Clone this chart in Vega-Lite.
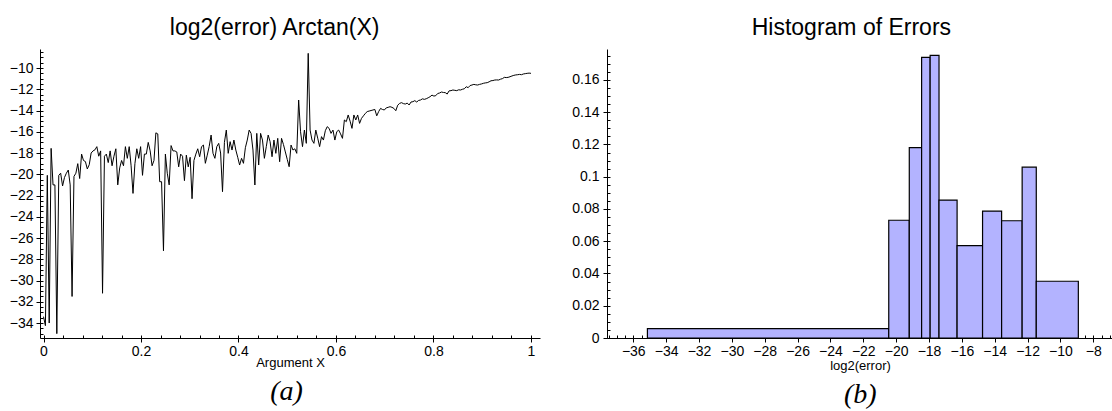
{
"$schema":"https://vega.github.io/schema/vega-lite/v6.json",
"background":"white",
"padding":{"left":9,"top":17,"right":0,"bottom":0},
"config":{"font":"Liberation Sans","view":{"stroke":null},
"axis":{"labelFont":"Liberation Sans","labelFontSize":14,"labelColor":"black","domainColor":"black","tickColor":"black","grid":false,"titleFont":"Liberation Sans","titleFontSize":13,"titleFontWeight":"normal","titleColor":"black","domainWidth":1,"tickWidth":1}},
"datasets":{
"err":[{"x":0,"y":-33.4},{"x":0.0039,"y":-34.25},{"x":0.0078,"y":-20.1},{"x":0.0117,"y":-34.0},{"x":0.0156,"y":-17.56},{"x":0.0195,"y":-21.0},{"x":0.0234,"y":-21.0},{"x":0.0273,"y":-35.0},{"x":0.0313,"y":-20.1},{"x":0.0352,"y":-19.9},{"x":0.0391,"y":-21.1},{"x":0.043,"y":-20.3},{"x":0.0469,"y":-19.9},{"x":0.0508,"y":-19.6},{"x":0.0547,"y":-21.0},{"x":0.0586,"y":-31.5},{"x":0.0625,"y":-20.2},{"x":0.0664,"y":-19.9},{"x":0.0703,"y":-19.0},{"x":0.0742,"y":-20.4},{"x":0.0781,"y":-18.1},{"x":0.082,"y":-18.7},{"x":0.0859,"y":-18.8},{"x":0.0898,"y":-19.5},{"x":0.0938,"y":-19.1},{"x":0.0977,"y":-18.0},{"x":0.1016,"y":-17.8},{"x":0.1055,"y":-17.7},{"x":0.1094,"y":-17.4},{"x":0.1133,"y":-18.3},{"x":0.1172,"y":-17.8},{"x":0.1211,"y":-31.2},{"x":0.125,"y":-18.3},{"x":0.1289,"y":-18.1},{"x":0.1328,"y":-18.9},{"x":0.1367,"y":-17.8},{"x":0.1406,"y":-19.2},{"x":0.1445,"y":-18.3},{"x":0.1484,"y":-17.6},{"x":0.1523,"y":-21.0},{"x":0.1563,"y":-19.4},{"x":0.1602,"y":-18.7},{"x":0.1641,"y":-19.2},{"x":0.168,"y":-17.4},{"x":0.1719,"y":-18.5},{"x":0.1758,"y":-17.4},{"x":0.1797,"y":-19.2},{"x":0.1836,"y":-21.8},{"x":0.1875,"y":-19.0},{"x":0.1914,"y":-17.6},{"x":0.1953,"y":-18.5},{"x":0.1992,"y":-17.4},{"x":0.2031,"y":-20.1},{"x":0.207,"y":-18.1},{"x":0.2109,"y":-18.1},{"x":0.2148,"y":-17.0},{"x":0.2188,"y":-17.8},{"x":0.2227,"y":-19.2},{"x":0.2266,"y":-18.7},{"x":0.2305,"y":-16.1},{"x":0.2344,"y":-16.2},{"x":0.2383,"y":-20.7},{"x":0.2422,"y":-20.7},{"x":0.2461,"y":-27.2},{"x":0.25,"y":-18.1},{"x":0.2539,"y":-19.9},{"x":0.2578,"y":-21.0},{"x":0.2617,"y":-17.3},{"x":0.2656,"y":-17.8},{"x":0.2695,"y":-17.8},{"x":0.2734,"y":-17.9},{"x":0.2773,"y":-19.3},{"x":0.2813,"y":-18.1},{"x":0.2852,"y":-18.3},{"x":0.2891,"y":-20.6},{"x":0.293,"y":-18.2},{"x":0.2969,"y":-19.3},{"x":0.3008,"y":-18.4},{"x":0.3047,"y":-22.3},{"x":0.3086,"y":-18.7},{"x":0.3125,"y":-18.1},{"x":0.3164,"y":-17.6},{"x":0.3203,"y":-18.35},{"x":0.3242,"y":-17.4},{"x":0.3281,"y":-17.25},{"x":0.332,"y":-18.97},{"x":0.3359,"y":-18.2},{"x":0.3398,"y":-17.4},{"x":0.3438,"y":-16.31},{"x":0.3477,"y":-18.03},{"x":0.3516,"y":-18.5},{"x":0.3555,"y":-17.4},{"x":0.3594,"y":-17.09},{"x":0.3633,"y":-18.0},{"x":0.3672,"y":-21.64},{"x":0.3711,"y":-17.0},{"x":0.375,"y":-15.84},{"x":0.3789,"y":-18.03},{"x":0.3828,"y":-16.93},{"x":0.3867,"y":-17.72},{"x":0.3906,"y":-16.78},{"x":0.3945,"y":-17.72},{"x":0.3984,"y":-18.4},{"x":0.4023,"y":-19.13},{"x":0.4063,"y":-18.5},{"x":0.4102,"y":-18.97},{"x":0.4141,"y":-17.5},{"x":0.418,"y":-16.78},{"x":0.4219,"y":-15.84},{"x":0.4258,"y":-16.15},{"x":0.4297,"y":-17.72},{"x":0.4336,"y":-21.01},{"x":0.4375,"y":-16.15},{"x":0.4414,"y":-19.13},{"x":0.4453,"y":-16.15},{"x":0.4492,"y":-16.78},{"x":0.4531,"y":-18.5},{"x":0.457,"y":-17.4},{"x":0.4609,"y":-16.31},{"x":0.4648,"y":-16.93},{"x":0.4688,"y":-18.35},{"x":0.4727,"y":-16.78},{"x":0.4766,"y":-18.03},{"x":0.4805,"y":-16.62},{"x":0.4844,"y":-18.82},{"x":0.4883,"y":-16.62},{"x":0.4922,"y":-17.2},{"x":0.4961,"y":-17.9},{"x":0.5,"y":-18.6},{"x":0.5039,"y":-19.29},{"x":0.5078,"y":-17.25},{"x":0.5117,"y":-17.72},{"x":0.5156,"y":-17.6},{"x":0.5195,"y":-18.03},{"x":0.5234,"y":-13.01},{"x":0.5273,"y":-16.0},{"x":0.5313,"y":-17.4},{"x":0.5352,"y":-15.84},{"x":0.5391,"y":-17.09},{"x":0.543,"y":-8.62},{"x":0.5469,"y":-15.84},{"x":0.5508,"y":-16.78},{"x":0.5547,"y":-17.09},{"x":0.5586,"y":-15.84},{"x":0.5625,"y":-16.6},{"x":0.5664,"y":-17.4},{"x":0.5703,"y":-16.46},{"x":0.5742,"y":-16.78},{"x":0.5781,"y":-15.9},{"x":0.582,"y":-15.52},{"x":0.5859,"y":-15.68},{"x":0.5898,"y":-16.15},{"x":0.5938,"y":-15.84},{"x":0.5977,"y":-16.78},{"x":0.6016,"y":-15.99},{"x":0.6055,"y":-15.84},{"x":0.6094,"y":-16.2},{"x":0.6133,"y":-16.62},{"x":0.6172,"y":-14.89},{"x":0.6211,"y":-15.05},{"x":0.625,"y":-14.42},{"x":0.6289,"y":-15.0},{"x":0.6328,"y":-15.68},{"x":0.6367,"y":-14.42},{"x":0.6406,"y":-14.89},{"x":0.6445,"y":-14.42},{"x":0.6484,"y":-15.21},{"x":0.6523,"y":-14.74},{"x":0.6563,"y":-14.5},{"x":0.6602,"y":-14.27},{"x":0.6641,"y":-14.1},{"x":0.668,"y":-14.05},{"x":0.6719,"y":-14.0},{"x":0.6758,"y":-13.95},{"x":0.6797,"y":-13.9},{"x":0.6836,"y":-14.5},{"x":0.6875,"y":-14.1},{"x":0.6914,"y":-13.8},{"x":0.6953,"y":-13.9},{"x":0.6992,"y":-13.95},{"x":0.7031,"y":-13.75},{"x":0.707,"y":-13.7},{"x":0.7109,"y":-13.64},{"x":0.7148,"y":-13.7},{"x":0.7188,"y":-13.8},{"x":0.7227,"y":-14.02},{"x":0.7266,"y":-13.5},{"x":0.7305,"y":-13.33},{"x":0.7344,"y":-13.26},{"x":0.7383,"y":-13.35},{"x":0.7422,"y":-13.39},{"x":0.7461,"y":-13.3},{"x":0.75,"y":-13.48},{"x":0.7539,"y":-13.2},{"x":0.7578,"y":-13.17},{"x":0.7617,"y":-13.07},{"x":0.7656,"y":-13.2},{"x":0.7695,"y":-13.05},{"x":0.7734,"y":-13.01},{"x":0.7773,"y":-12.9},{"x":0.7813,"y":-12.95},{"x":0.7852,"y":-12.89},{"x":0.7891,"y":-12.8},{"x":0.793,"y":-12.7},{"x":0.7969,"y":-12.55},{"x":0.8008,"y":-12.64},{"x":0.8047,"y":-12.6},{"x":0.8086,"y":-12.4},{"x":0.8125,"y":-12.35},{"x":0.8164,"y":-12.26},{"x":0.8203,"y":-12.3},{"x":0.8242,"y":-12.32},{"x":0.8281,"y":-12.45},{"x":0.832,"y":-12.15},{"x":0.8359,"y":-12.13},{"x":0.8398,"y":-12.07},{"x":0.8438,"y":-12.1},{"x":0.8477,"y":-12.13},{"x":0.8516,"y":-12.05},{"x":0.8555,"y":-12.07},{"x":0.8594,"y":-12.0},{"x":0.8633,"y":-11.95},{"x":0.8672,"y":-11.76},{"x":0.8711,"y":-11.85},{"x":0.875,"y":-11.65},{"x":0.8789,"y":-11.6},{"x":0.8828,"y":-11.54},{"x":0.8867,"y":-11.58},{"x":0.8906,"y":-11.6},{"x":0.8945,"y":-11.54},{"x":0.8984,"y":-11.5},{"x":0.9023,"y":-11.44},{"x":0.9063,"y":-11.4},{"x":0.9102,"y":-11.38},{"x":0.9141,"y":-11.3},{"x":0.918,"y":-11.2},{"x":0.9219,"y":-11.18},{"x":0.9258,"y":-11.13},{"x":0.9297,"y":-11.12},{"x":0.9336,"y":-11.13},{"x":0.9375,"y":-11.05},{"x":0.9414,"y":-11.0},{"x":0.9453,"y":-10.88},{"x":0.9492,"y":-10.9},{"x":0.9531,"y":-10.88},{"x":0.957,"y":-10.82},{"x":0.9609,"y":-10.75},{"x":0.9648,"y":-10.69},{"x":0.9688,"y":-10.65},{"x":0.9727,"y":-10.63},{"x":0.9766,"y":-10.6},{"x":0.9805,"y":-10.63},{"x":0.9844,"y":-10.56},{"x":0.9883,"y":-10.53},{"x":0.9922,"y":-10.5},{"x":0.9961,"y":-10.48},{"x":1,"y":-10.5}],
"hist":[{"lo":-35.14,"hi":-20.45,"density":0.0058},{"lo":-20.45,"hi":-19.2,"density":0.073},{"lo":-19.2,"hi":-18.45,"density":0.118},{"lo":-18.45,"hi":-17.93,"density":0.174},{"lo":-17.93,"hi":-17.39,"density":0.1752},{"lo":-17.39,"hi":-16.29,"density":0.0855},{"lo":-16.29,"hi":-14.74,"density":0.0573},{"lo":-14.74,"hi":-13.58,"density":0.0787},{"lo":-13.58,"hi":-12.33,"density":0.0727},{"lo":-12.33,"hi":-11.47,"density":0.1059},{"lo":-11.47,"hi":-8.91,"density":0.0352}]
},
"spacing":31,
"hconcat":[
{"title":{"text":"(a)","orient":"bottom","anchor":"middle","font":"Liberation Serif","fontStyle":"italic","fontSize":28,"fontWeight":"normal","color":"black","offset":9,"dx":12},
 "vconcat":[
 {"title":{"text":"log2(error) Arctan(X)","font":"Liberation Sans","fontSize":23,"fontWeight":"normal","color":"black","offset":9,"frame":"bounds","anchor":"middle"},
  "width":500,"height":289,
  "data":{"name":"err"},
  "layer":[
   {"mark":{"type":"line","color":"black","strokeWidth":1},
    "encoding":{
     "x":{"field":"x","type":"quantitative","scale":{"domain":[-0.0072,1.0185],"nice":false,"zero":false},
      "axis":{"title":"Argument X","values":[0,0.2,0.4,0.6,0.8,1],"format":"~g","tickSize":4,"labelPadding":2,"titlePadding":-2}},
     "y":{"field":"y","type":"quantitative","scale":{"domain":[-35.41,-8.21],"nice":false,"zero":false},
      "axis":{"title":null,"tickCount":14,"tickSize":4,"labelPadding":3}}}},
   {"mark":{"type":"line","opacity":0},
    "encoding":{
     "x":{"field":"x","type":"quantitative","scale":{"domain":[-0.0072,1.0185],"nice":false,"zero":false},
      "axis":{"orient":"bottom","title":null,"labels":false,"domain":false,"values":[0,0.04,0.08,0.12,0.16,0.2,0.24,0.28,0.32,0.36,0.4,0.44,0.48,0.52,0.56,0.6,0.64,0.68,0.72,0.76,0.8,0.84,0.88,0.92,0.96,1],"tickSize":-3}},
     "y":{"field":"y","type":"quantitative","scale":{"domain":[-35.41,-8.21],"nice":false,"zero":false},
      "axis":{"orient":"left","title":null,"labels":false,"domain":false,"tickCount":54,"tickSize":-3}}}}
  ],
  "resolve":{"axis":{"x":"independent","y":"independent"}}
 }]},
{"title":{"text":"(b)","orient":"bottom","anchor":"middle","font":"Liberation Serif","fontStyle":"italic","fontSize":28,"fontWeight":"normal","color":"black","offset":9,"dx":18},
 "vconcat":[
 {"title":{"text":"Histogram of Errors","font":"Liberation Sans","fontSize":23,"fontWeight":"normal","color":"black","offset":9,"frame":"bounds","anchor":"middle","dx":9},
  "width":506,"height":289,
  "data":{"name":"hist"},
  "layer":[
   {"mark":{"type":"rect","fill":"#b3b3ff","stroke":"black","strokeWidth":1.2},
    "encoding":{
     "x":{"field":"lo","type":"quantitative","scale":{"domain":[-37.6,-6.8],"nice":false,"zero":false},
      "axis":{"title":"log2(error)","tickCount":15,"tickSize":4,"labelPadding":2,"titlePadding":1}},
     "x2":{"field":"hi"},
     "y":{"field":"density","type":"quantitative","scale":{"domain":[0,0.1792],"nice":false},
      "axis":{"title":null,"tickCount":9,"format":"~g","tickSize":4,"labelPadding":4}},
     "y2":{"datum":0}}},
   {"mark":{"type":"rect","opacity":0},
    "encoding":{
     "x":{"field":"lo","type":"quantitative","scale":{"domain":[-37.6,-6.8],"nice":false,"zero":false},
      "axis":{"orient":"bottom","title":null,"labels":false,"domain":false,"tickCount":62,"tickSize":-3}},
     "x2":{"field":"hi"},
     "y":{"field":"density","type":"quantitative","scale":{"domain":[0,0.1792],"nice":false},
      "axis":{"orient":"left","title":null,"labels":false,"domain":false,"tickCount":36,"tickSize":-3}},
     "y2":{"datum":0}}}
  ],
  "resolve":{"axis":{"x":"independent","y":"independent"}}
 }]}
]
}
